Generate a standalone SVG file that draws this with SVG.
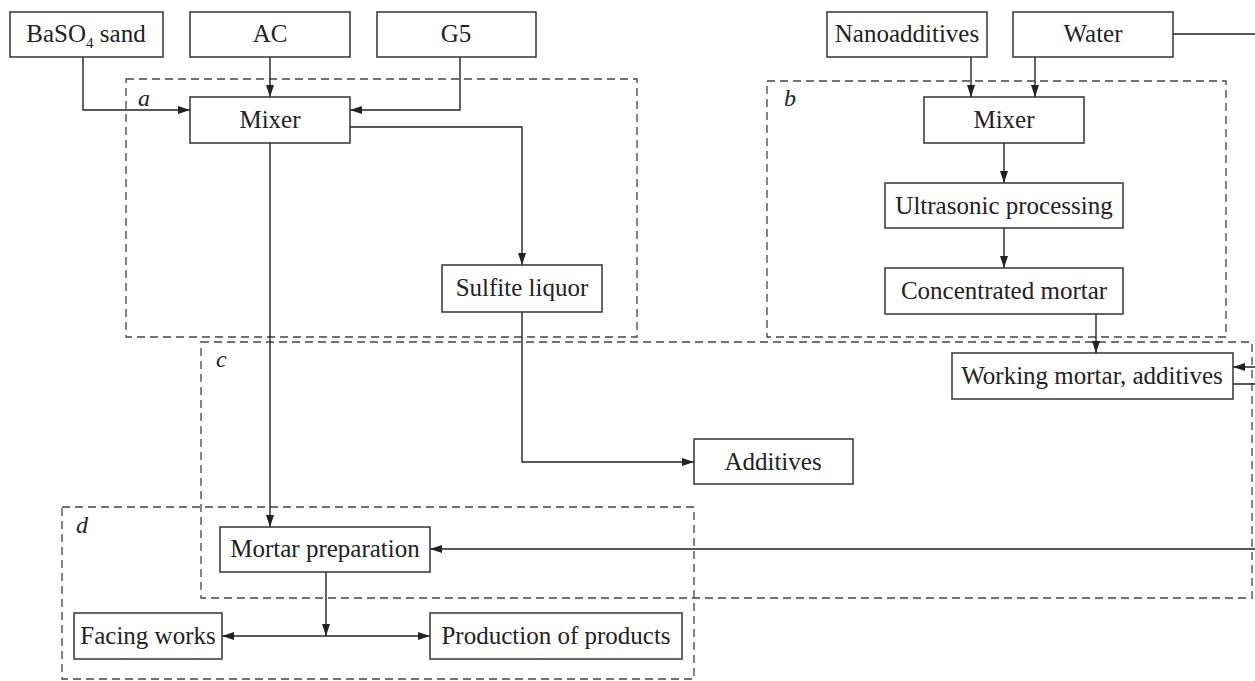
<svg xmlns="http://www.w3.org/2000/svg" width="1255" height="681" viewBox="0 0 1255 681">
<defs>
<marker id="arr" viewBox="0 0 12 8" refX="12" refY="4" markerWidth="12" markerHeight="8" markerUnits="userSpaceOnUse" orient="auto">
<path d="M0,0 L12,4 L0,8 Z" fill="#222"/>
</marker>
<style>
.box{fill:#fff;stroke:#333;stroke-width:1.5}
.grp{fill:none;stroke:#444;stroke-width:1.3;stroke-dasharray:8 5}
.t{font-family:"Liberation Serif","Times New Roman",serif;font-size:25px;fill:#222;text-anchor:middle}
.lab{font-family:"Liberation Serif","Times New Roman",serif;font-size:24px;font-style:italic;fill:#222}
.ln{fill:none;stroke:#222;stroke-width:1.4}
.ar{marker-end:url(#arr)}
</style>
</defs>
<rect width="1255" height="681" fill="#fff"/>
<g id="groups">
<rect class="grp" x="126" y="79" width="511" height="258"/>
<rect class="grp" x="767" y="81" width="459" height="256"/>
<rect class="grp" x="201" y="342" width="1051" height="256"/>
<rect class="grp" x="62" y="507" width="632" height="172"/>
<text class="lab" x="138" y="106">a</text>
<text class="lab" x="784" y="106">b</text>
<text class="lab" x="216" y="367">c</text>
<text class="lab" x="76" y="533">d</text>
</g>
<g id="connectors">
<path class="ln ar" d="M83,57 V110 H190"/>
<path class="ln ar" d="M270,57 V97"/>
<path class="ln ar" d="M460,57 V110 H350"/>
<path class="ln ar" d="M350,127 H522 V265"/>
<path class="ln ar" d="M270,143 V527"/>
<path class="ln ar" d="M522,312 V462 H694"/>
<path class="ln ar" d="M971,57 V97"/>
<path class="ln ar" d="M1035,57 V97"/>
<path class="ln ar" d="M1004,143 V183"/>
<path class="ln ar" d="M1004,228 V268"/>
<path class="ln ar" d="M1096,314 V353"/>
<path class="ln ar" d="M1173,34 H1262 V367 H1233"/>
<path class="ln ar" d="M1233,384 H1262 V549 H430"/>
<path class="ln ar" d="M326,572 V636"/>
<path class="ln ar" d="M326,636 H222"/>
<path class="ln ar" d="M326,636 H430"/>
</g>
<g id="baso4"><rect class="box" x="10" y="12" width="153" height="45"/><text class="t" x="86" y="42">BaSO<tspan font-size="15" dy="6">4</tspan><tspan dy="-6"> sand</tspan></text></g>
<g id="ac"><rect class="box" x="190" y="12" width="160" height="45"/><text class="t" x="270" y="42">AC</text></g>
<g id="g5"><rect class="box" x="377" y="12" width="159" height="45"/><text class="t" x="456" y="42">G5</text></g>
<g id="mixer-a"><rect class="box" x="190" y="97" width="160" height="46"/><text class="t" x="270" y="128">Mixer</text></g>
<g id="sulfite"><rect class="box" x="442" y="265" width="160" height="47"/><text class="t" x="522" y="296">Sulfite liquor</text></g>
<g id="additives"><rect class="box" x="694" y="439" width="159" height="45"/><text class="t" x="773" y="470">Additives</text></g>
<g id="nano"><rect class="box" x="827" y="12" width="160" height="45"/><text class="t" x="907" y="42">Nanoadditives</text></g>
<g id="water"><rect class="box" x="1013" y="12" width="160" height="45"/><text class="t" x="1093" y="42">Water</text></g>
<g id="mixer-b"><rect class="box" x="924" y="97" width="160" height="46"/><text class="t" x="1004" y="128">Mixer</text></g>
<g id="ultra"><rect class="box" x="885" y="183" width="238" height="45"/><text class="t" x="1004" y="214">Ultrasonic processing</text></g>
<g id="conc"><rect class="box" x="885" y="268" width="238" height="46"/><text class="t" x="1004" y="299">Concentrated mortar</text></g>
<g id="working"><rect class="box" x="952" y="353" width="281" height="46"/><text class="t" x="1092" y="384">Working mortar, additives</text></g>
<g id="mortar"><rect class="box" x="220" y="527" width="210" height="45"/><text class="t" x="325" y="557">Mortar preparation</text></g>
<g id="facing"><rect class="box" x="74" y="613" width="148" height="46"/><text class="t" x="148" y="644">Facing works</text></g>
<g id="production"><rect class="box" x="430" y="613" width="252" height="46"/><text class="t" x="556" y="644">Production of products</text></g>
</svg>
